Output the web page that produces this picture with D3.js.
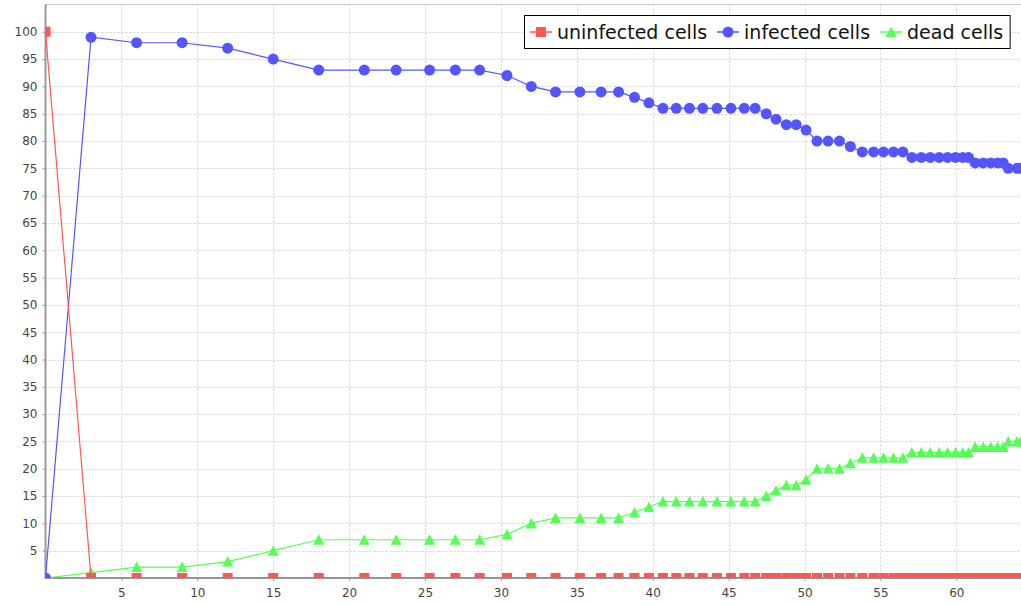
<!DOCTYPE html>
<html>
<head>
<meta charset="utf-8">
<script src="https://cdn.jsdelivr.net/npm/d3@7"></script>
<style>
  html, body { margin: 0; padding: 0; background: #fff; }
  svg { display: block; }
  text { font-family: "DejaVu Sans", sans-serif; }
</style>
</head>
<body>
<svg id="chart" width="1021" height="605"></svg>
<script>
// ---- data ----
const time = [0, 3, 6, 9, 12, 15, 18, 21, 23.1, 25.3, 27, 28.6, 30.4, 32, 33.6, 35.2, 36.6, 37.75, 38.8, 39.75,
  40.67, 41.55, 42.42, 43.3, 44.23, 45.15, 46.03, 46.75, 47.48, 48.12, 48.8, 49.45, 50.1, 50.82, 51.55, 52.3,
  53.02, 53.8, 54.55, 55.2, 55.86, 56.48, 57.07, 57.69, 58.28, 58.87, 59.42, 59.95, 60.43, 60.8,
  61.24, 61.77, 62.27, 62.72, 63.09, 63.42, 64.0, 64.25];
const uninfected = [100, 0, 0, 0, 0, 0, 0, 0, 0, 0, 0, 0, 0, 0, 0, 0, 0, 0, 0, 0,
  0, 0, 0, 0, 0, 0, 0, 0, 0, 0, 0, 0, 0, 0, 0, 0,
  0, 0, 0, 0, 0, 0, 0, 0, 0, 0, 0, 0, 0, 0,
  0, 0, 0, 0, 0, 0, 0, 0];
const infected = [0, 99, 98, 98, 97, 95, 93, 93, 93, 93, 93, 93, 92, 90, 89, 89, 89, 89, 88, 87,
  86, 86, 86, 86, 86, 86, 86, 86, 85, 84, 83, 83, 82, 80, 80, 80,
  79, 78, 78, 78, 78, 78, 77, 77, 77, 77, 77, 77, 77, 77,
  76, 76, 76, 76, 76, 75, 75, 75];
const dead = [0, 1, 2, 2, 3, 5, 7, 7, 7, 7, 7, 7, 8, 10, 11, 11, 11, 11, 12, 13,
  14, 14, 14, 14, 14, 14, 14, 14, 15, 16, 17, 17, 18, 20, 20, 20,
  21, 22, 22, 22, 22, 22, 23, 23, 23, 23, 23, 23, 23, 23,
  24, 24, 24, 24, 24, 25, 25, 25];
const seriesNames = ["uninfected cells", "infected cells", "dead cells"];
const seriesColors = ["#ff5555", "#5555ff", "#55ff55"];
const seriesShapes = ["square", "circle", "triangle"];
const xTicks = [5, 10, 15, 20, 25, 30, 35, 40, 45, 50, 55, 60];
const yTicks = [5, 10, 15, 20, 25, 30, 35, 40, 45, 50, 55, 60, 65, 70, 75, 80, 85, 90, 95, 100];
const xDomain = [0, 64.26];
const yDomain = [0, 105];

// ---- layout ----
const svg = d3.select("#chart");
const plot = { left: 45.5, right: 1021, top: 4.5, bottom: 578 };

const x = d3.scaleLinear().domain(xDomain).range([plot.left, plot.right]);
const y = d3.scaleLinear().domain(yDomain).range([plot.bottom, plot.top]);

svg.append("defs").append("clipPath").attr("id", "clip")
  .append("rect")
  .attr("x", plot.left).attr("y", plot.top)
  .attr("width", plot.right - plot.left).attr("height", plot.bottom - plot.top);

// plot background + outline
svg.append("rect")
  .attr("x", plot.left).attr("y", plot.top)
  .attr("width", plot.right - plot.left + 5).attr("height", plot.bottom - plot.top)
  .attr("fill", "#fff").attr("stroke", "#c8c8c8").attr("stroke-width", 1);

// grid
const grid = svg.append("g");
grid.selectAll("line.gx").data(xTicks).join("line")
  .attr("x1", d => Math.round(x(d)) + 0.5).attr("x2", d => Math.round(x(d)) + 0.5)
  .attr("y1", plot.top).attr("y2", plot.bottom)
  .attr("stroke", "#d0d0d0").attr("stroke-width", 1).attr("stroke-dasharray", "2,2");
grid.selectAll("line.gy").data(yTicks).join("line")
  .attr("y1", d => Math.round(y(d)) + 0.5).attr("y2", d => Math.round(y(d)) + 0.5)
  .attr("x1", plot.left).attr("x2", plot.right)
  .attr("stroke", "#d0d0d0").attr("stroke-width", 1).attr("stroke-dasharray", "2,2");

// axes
const xAxis = d3.axisBottom(x).tickValues(xTicks).tickSize(3).tickPadding(7).tickFormat(d3.format("d"));
const yAxis = d3.axisLeft(y).tickValues(yTicks).tickSize(3).tickPadding(5).tickFormat(d3.format("d"));

const gx = svg.append("g").attr("transform", `translate(0,${plot.bottom})`).call(xAxis);
const gy = svg.append("g").attr("transform", `translate(${plot.left},0)`).call(yAxis);
[gx, gy].forEach(g => {
  g.select(".domain").remove();
  g.selectAll(".tick line").attr("stroke", "#999");
  g.selectAll(".tick text").attr("fill", "#444").style("font-size", "12px")
    .style("font-family", "DejaVu Sans, sans-serif");
});
// axis lines
svg.append("line").attr("x1", plot.left).attr("x2", plot.left)
  .attr("y1", plot.top).attr("y2", plot.bottom + 1)
  .attr("stroke", "#999").attr("stroke-width", 2);
svg.append("line").attr("x1", plot.left).attr("x2", plot.right)
  .attr("y1", plot.bottom).attr("y2", plot.bottom)
  .attr("stroke", "#999").attr("stroke-width", 2);

// series
const seriesData = [uninfected, infected, dead];
const symbolPath = (shape, cx, cy) => {
  if (shape === "square") return `M${cx - 5},${cy - 5}h10v10h-10z`;
  if (shape === "circle") return `M${cx - 5.5},${cy}a5.5,5.5 0 1,0 11,0a5.5,5.5 0 1,0 -11,0z`;
  return `M${cx},${cy - 5.5}L${cx + 5.5},${cy + 5}L${cx - 5.5},${cy + 5}z`;
};

const plotG = svg.append("g").attr("clip-path", "url(#clip)");
// draw in reverse so the first series is on top
[2, 1, 0].forEach(si => {
  const vals = seriesData[si];
  const pts = time.map((t, i) => [t, vals[i]]);
  const line = d3.line().x(d => x(d[0])).y(d => y(d[1]));
  plotG.append("path").datum(pts)
    .attr("d", line).attr("fill", "none")
    .attr("stroke", seriesColors[si]).attr("stroke-width", 1.2);
  plotG.append("g").selectAll("path").data(pts).join("path")
    .attr("d", d => symbolPath(seriesShapes[si], x(d[0]), y(d[1])))
    .attr("fill", seriesColors[si]);
});

// legend
const legend = svg.append("g");
const legendBox = legend.append("rect")
  .attr("fill", "#fff").attr("stroke", "#000").attr("stroke-width", 1);
let lx = 530;
const ly = 32;
seriesNames.forEach((name, si) => {
  legend.append("line").attr("x1", lx).attr("x2", lx + 22).attr("y1", ly).attr("y2", ly)
    .attr("stroke", seriesColors[si]).attr("stroke-width", 1.5);
  legend.append("path").attr("d", symbolPath(seriesShapes[si], lx + 11, ly)).attr("fill", seriesColors[si]);
  const t = legend.append("text").attr("x", lx + 27).attr("y", ly + 6.5)
    .attr("fill", "#111").style("font-size", "19px").text(name);
  lx = lx + 27 + t.node().getComputedTextLength() + 10;
});
legendBox.attr("x", 524.5).attr("y", 15.5).attr("width", lx - 3 - 524.5).attr("height", 33);
</script>
</body>
</html>
